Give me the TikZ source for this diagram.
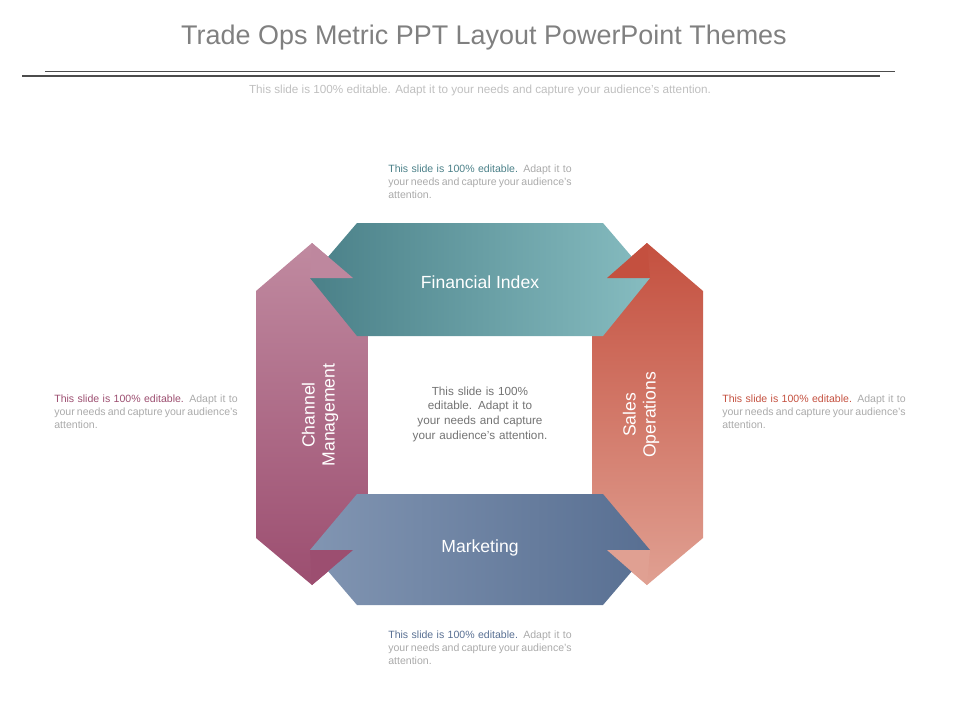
\documentclass[tikz,border=0pt]{standalone}
\usepackage{fontspec}
\setmainfont{Liberation Sans}
\usetikzlibrary{positioning}
\definecolor{tealDark}{RGB}{74,128,136}
\definecolor{tealLight}{RGB}{134,188,192}
\definecolor{redTop}{RGB}{196,80,63}
\definecolor{redBottom}{RGB}{224,160,146}
\definecolor{pinkTop}{RGB}{192,138,160}
\definecolor{pinkBottom}{RGB}{156,78,112}
\definecolor{blueLight}{RGB}{129,149,178}
\definecolor{blueDark}{RGB}{88,111,146}
\definecolor{textGray}{RGB}{170,170,170}
\tikzset{
  sidetext/.style={text width=5.5cm, align=justify, font=\fontsize{9}{11}\selectfont, text=textGray},
  bandlabel/.style={text=white, font=\fontsize{15}{17}\selectfont, align=center}
}
\newcommand{\sideNote}[3]{\node[sidetext] (#1) at #2 {\textcolor{#3}{This slide is 100\% editable.} Adapt it to your needs and capture your audience's attention.};}

\begin{document}
\begin{tikzpicture}[x=0.03cm, y=-0.03cm]
  \useasboundingbox (0,0) rectangle (960,720);
  % title
  \node[text=black!50, font=\fontsize{23}{26}\selectfont] (title) at (484,38) {Trade Ops Metric PPT Layout PowerPoint Themes};
  \coordinate (ruleA) at (45,71); \coordinate (ruleB) at (895,71);
  \coordinate (ruleC) at (22,76); \coordinate (ruleD) at (880,76);
  \draw[black!70, line width=0.6pt] (ruleA) -- (ruleB);
  \draw[black!70, line width=1.4pt] (ruleC) -- (ruleD);
  \node[text=black!25, font=\fontsize{10}{12}\selectfont] (subtitle) at (480,90) {This slide is 100\% editable. Adapt it to your needs and capture your audience's attention.};

  % bands
  \shade[top color=pinkTop, bottom color=pinkBottom] (312,243) -- (368,291) -- (368,538) -- (312,585) -- (256,538) -- (256,291) -- cycle;
  \shade[top color=redTop, bottom color=redBottom] (647,243) -- (703,291) -- (703,538) -- (647,585) -- (592,538) -- (592,291) -- cycle;
  \shade[left color=tealDark, right color=tealLight] (357,223) -- (603,223) -- (650,278) -- (603,336) -- (357,336) -- (310,278) -- cycle;
  \shade[left color=blueLight, right color=blueDark] (357,494) -- (603,494) -- (650,550) -- (603,605) -- (357,605) -- (310,550) -- cycle;
  % caps
  \fill[pinkTop!95!pinkBottom] (312,243) -- (353,278) -- (310,278) -- cycle;
  \fill[redTop] (647,243) -- (650,278) -- (607,278) -- cycle;
  \fill[pinkBottom] (312,585) -- (353,550) -- (310,550) -- cycle;
  \fill[redBottom] (647,585) -- (650,550) -- (607,550) -- cycle;

  \node[bandlabel] (fin) at (480,282) {Financial Index};
  \node[bandlabel] (mkt) at (480,548) {Marketing};
  \node[bandlabel, rotate=90] (chan) at (320,415) {Channel\\Management};
  \node[bandlabel, rotate=90] (sales) at (641,415) {Sales\\Operations};
  \node[text width=4.3cm, align=center, text=black!55, font=\fontsize{10}{12.5}\selectfont] (center) at (480,414) {This slide is 100\% editable. Adapt it to your needs and capture your audience's attention.};

  % notes
  \sideNote{noteTop}{(480,182)}{tealDark}
  \sideNote{noteBottom}{(480,648)}{blueDark}
  \sideNote{noteLeft}{(146,412)}{pinkBottom}
  \sideNote{noteRight}{(814,412)}{redTop}
\end{tikzpicture}
\end{document}
